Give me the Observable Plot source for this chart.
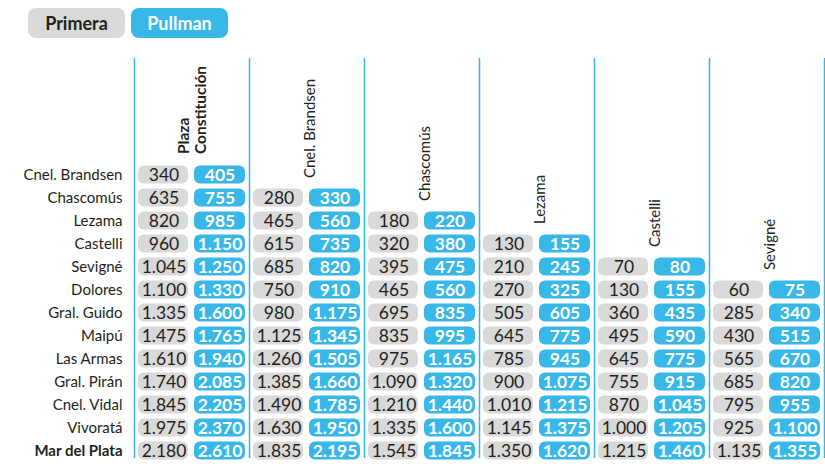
<!DOCTYPE html>
<html><head><meta charset="utf-8">
<script src="https://cdn.jsdelivr.net/npm/d3@7"></script>
<script src="https://cdn.jsdelivr.net/npm/@observablehq/plot@0.6"></script>
<style>
body{margin:0;background:#fff;font-family:Lato,sans-serif}
#wrap{position:relative;width:825px;height:474px}
#legend{position:absolute;left:28px;top:8px;display:flex;gap:6px}
.pill{width:97px;height:30px;border-radius:8px;font-weight:700;font-size:18px;display:flex;align-items:center;justify-content:center}
</style></head><body>
<div id="wrap"><div id="legend"></div></div>
<script>
const series = ["Primera", "Pullman"];
const origins = ["Plaza Constitución", "Cnel. Brandsen", "Chascomús", "Lezama", "Castelli", "Sevigné"];
const originLabels = ["Plaza\nConstitución", "Cnel. Brandsen", "Chascomús", "Lezama", "Castelli", "Sevigné"];
const destinations = ["Cnel. Brandsen", "Chascomús", "Lezama", "Castelli", "Sevigné", "Dolores", "Gral. Guido", "Maipú", "Las Armas", "Gral. Pirán", "Cnel. Vidal", "Vivoratá", "Mar del Plata"];

const primeraPlazaConstitucion = [340, 635, 820, 960, 1045, 1100, 1335, 1475, 1610, 1740, 1845, 1975, 2180];
const pullmanPlazaConstitucion = [405, 755, 985, 1150, 1250, 1330, 1600, 1765, 1940, 2085, 2205, 2370, 2610];
const primeraBrandsen = [280, 465, 615, 685, 750, 980, 1125, 1260, 1385, 1490, 1630, 1835];
const pullmanBrandsen = [330, 560, 735, 820, 910, 1175, 1345, 1505, 1660, 1785, 1950, 2195];
const primeraChascomus = [180, 320, 395, 465, 695, 835, 975, 1090, 1210, 1335, 1545];
const pullmanChascomus = [220, 380, 475, 560, 835, 995, 1165, 1320, 1440, 1600, 1845];
const primeraLezama = [130, 210, 270, 505, 645, 785, 900, 1010, 1145, 1350];
const pullmanLezama = [155, 245, 325, 605, 775, 945, 1075, 1215, 1375, 1620];
const primeraCastelli = [70, 130, 360, 495, 645, 755, 870, 1000, 1215];
const pullmanCastelli = [80, 155, 435, 590, 775, 915, 1045, 1205, 1460];
const primeraSevigne = [60, 285, 430, 565, 685, 795, 925, 1135];
const pullmanSevigne = [75, 340, 515, 670, 820, 955, 1100, 1355];

const primera = [primeraPlazaConstitucion, primeraBrandsen, primeraChascomus, primeraLezama, primeraCastelli, primeraSevigne];
const pullman = [pullmanPlazaConstitucion, pullmanBrandsen, pullmanChascomus, pullmanLezama, pullmanCastelli, pullmanSevigne];

const GREY = "#d9d9d9", BLUE = "#38b8e8", INK = "#231f20";

const cells = [];
origins.forEach((o, i) => {
  primera[i].forEach((v, j) => {
    cells.push({origin: o, dest: destinations[i + j], primera: v, pullman: pullman[i][j]});
  });
});
const headers = origins.map((o, i) => ({origin: o, label: originLabels[i], dest: destinations[i]}));

const fmt = d3.formatLocale({decimal: ",", thousands: ".", grouping: [3], currency: ["$", ""]}).format(",");

const legend = document.getElementById("legend");
series.forEach((s, i) => {
  const d = document.createElement("div");
  d.className = "pill";
  d.textContent = s;
  d.style.background = i === 0 ? GREY : BLUE;
  d.style.color = i === 0 ? INK : "#fff";
  legend.appendChild(d);
});

const lineStyle = {stroke: "#3bb3e3", strokeWidth: 1.5};
const lastDest = destinations[destinations.length - 1];

const chart = Plot.plot({
  width: 825, height: 474,
  marginTop: 58, marginBottom: 16, marginLeft: 134, marginRight: 1,
  x: {domain: origins, range: [134, 824], padding: 0, axis: null},
  y: {domain: destinations, range: [162.5, 461.5], padding: 0, axis: null},
  style: {fontFamily: "Lato, sans-serif", background: "transparent"},
  marks: [
    Plot.ruleX(origins, {x: d => d, dx: -57.5, ...lineStyle}),
    Plot.ruleX(origins.slice(-1), {x: d => d, dx: 57.5, ...lineStyle}),
    Plot.cell(cells, {x: "origin", y: "dest", fill: GREY, insetLeft: 4, insetRight: 61, insetTop: 2.5, insetBottom: 2.5, rx: 6}),
    Plot.cell(cells, {x: "origin", y: "dest", fill: BLUE, insetLeft: 60, insetRight: 4, insetTop: 2.5, insetBottom: 2.5, rx: 6}),
    Plot.text(cells, {x: "origin", y: "dest", text: d => fmt(d.primera), dx: -28, dy: 0.5, fontSize: 17.5, fill: INK}),
    Plot.text(cells, {x: "origin", y: "dest", text: d => fmt(d.pullman), dx: 28, dy: 0.5, fontSize: 17.5, fontWeight: 700, fill: "#fff"}),
    Plot.text(destinations.filter(d => d !== lastDest), {y: d => d, text: d => d, frameAnchor: "left", dx: -12, textAnchor: "end", fontSize: 15, fill: INK}),
    Plot.text([lastDest], {y: d => d, text: d => d, frameAnchor: "left", dx: -12, textAnchor: "end", fontSize: 15, fontWeight: 700, fill: INK}),
    Plot.text(headers.slice(0, 1), {x: "origin", y: "dest", text: "label", rotate: -90, textAnchor: "start", dy: -21, fontSize: 15.5, fontWeight: 700, lineHeight: 1.1, fill: INK}),
    Plot.text(headers.slice(1), {x: "origin", y: "dest", text: "label", rotate: -90, textAnchor: "start", dy: -20, dx: 3, fontSize: 15, fill: INK})
  ]
});
document.getElementById("wrap").prepend(chart);
chart.style.position = "absolute";
chart.style.left = "0";
chart.style.top = "0";
</script>
</body></html>
